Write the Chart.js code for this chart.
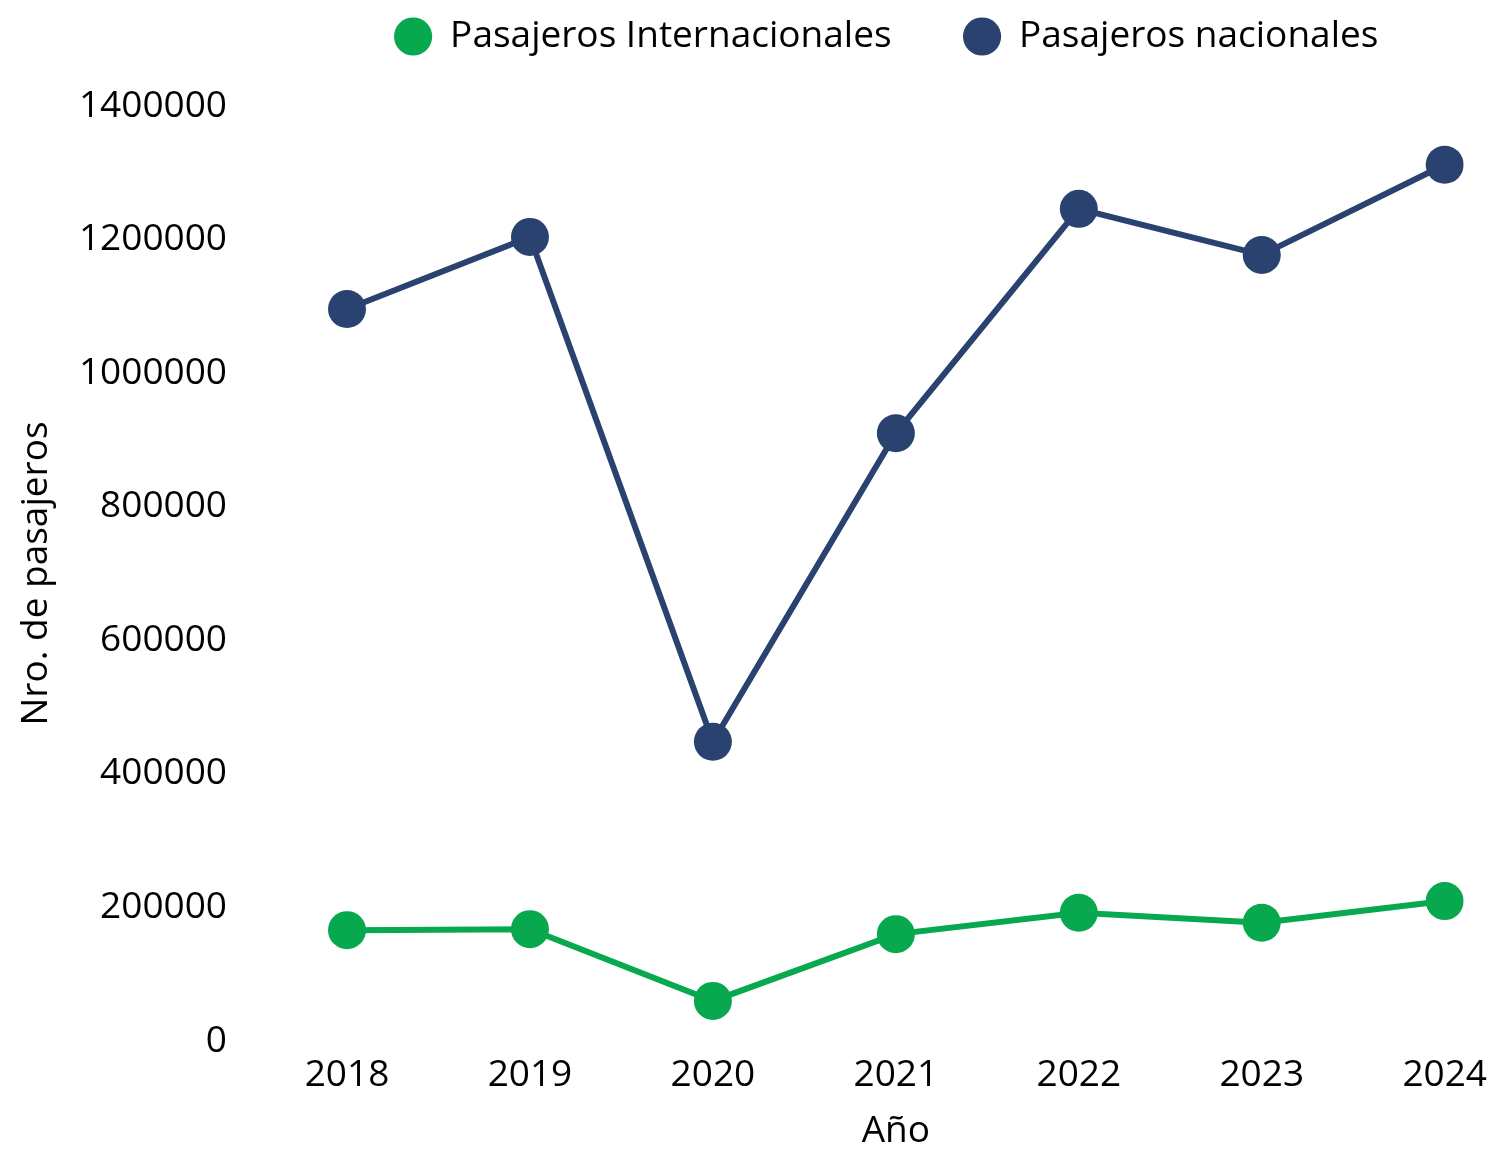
<!DOCTYPE html>
<html>
<head>
<meta charset="utf-8">
<script src="https://cdn.jsdelivr.net/npm/chart.js@4.4.1/dist/chart.umd.min.js"></script>
<style>
  html, body { margin: 0; padding: 0; background: #fff; }
  #wrap { width: 1499px; height: 1157px; }
</style>
</head>
<body>
<div id="wrap"><canvas id="chart" width="1499" height="1157"></canvas></div>
<script>
const years = ['2018', '2019', '2020', '2021', '2022', '2023', '2024'];
const internacionales = [166000, 167500, 60000, 160000, 192000, 177000, 209500];
const nacionales = [1096000, 1204000, 448000, 910000, 1246000, 1177000, 1312000];
const yTicks = [0, 200000, 400000, 600000, 800000, 1000000, 1200000, 1400000];

const GREEN = '#08a84e';
const NAVY = '#29426f';
const FONT = "'Open Sans', 'Noto Sans', sans-serif";
const FS = 37;

// put the legend row where the original has it (right of centre, near the top)
const legendShift = {
  id: 'legendShift',
  afterLayout(chart) {
    const lg = chart.legend;
    if (!lg) return;
    lg.left += 142;
    lg.right += 142;
    lg.top = -54;
    lg.bottom = 90;
  }
};

Chart.defaults.font.family = FONT;
Chart.defaults.color = '#000';

new Chart(document.getElementById('chart'), {
  type: 'line',
  data: {
    labels: years,
    datasets: [
      {
        label: 'Pasajeros Internacionales',
        data: internacionales,
        borderColor: GREEN,
        backgroundColor: GREEN,
        borderWidth: 6,
        pointRadius: 19,
        pointHoverRadius: 19,
        pointBorderWidth: 0,
        tension: 0
      },
      {
        label: 'Pasajeros nacionales',
        data: nacionales,
        borderColor: NAVY,
        backgroundColor: NAVY,
        borderWidth: 6,
        pointRadius: 19,
        pointHoverRadius: 19,
        pointBorderWidth: 0,
        tension: 0
      }
    ]
  },
  options: {
    responsive: false,
    animation: false,
    layout: { padding: { left: 0, right: 10, top: 0, bottom: 0 } },
    scales: {
      x: {
        offset: false,
        grid: { display: false, drawTicks: false },
        border: { display: false },
        ticks: { padding: 12, font: { size: FS } },
        title: { display: true, text: 'Año', font: { size: FS }, padding: { top: 0, bottom: 3 } },
        afterFit: (scale) => { scale.height = 116; }
      },
      y: {
        min: 0,
        max: 1400000,
        grid: { display: false, drawTicks: false },
        border: { display: false },
        afterBuildTicks: (axis) => { axis.ticks = yTicks.map(v => ({ value: v })); },
        ticks: { padding: 120, font: { size: FS }, callback: (v) => String(v) },
        title: { display: true, text: 'Nro. de pasajeros', font: { size: FS }, padding: { top: 14, bottom: 0 } },
        // big tick padding is only wanted sideways, not above/below the axis
        afterFit: (scale) => {
          scale.width = 347;
          scale.paddingTop = 22;
          scale.paddingBottom = 22;
        }
      }
    },
    plugins: {
      legend: {
        display: true,
        position: 'top',
        maxHeight: 106,
        labels: {
          usePointStyle: true,
          pointStyle: 'circle',
          boxWidth: FS,
          boxHeight: 27,
          padding: 72,
          font: { size: FS }
        }
      },
      tooltip: { enabled: false }
    }
  },
  plugins: [legendShift]
});
</script>
</body>
</html>
